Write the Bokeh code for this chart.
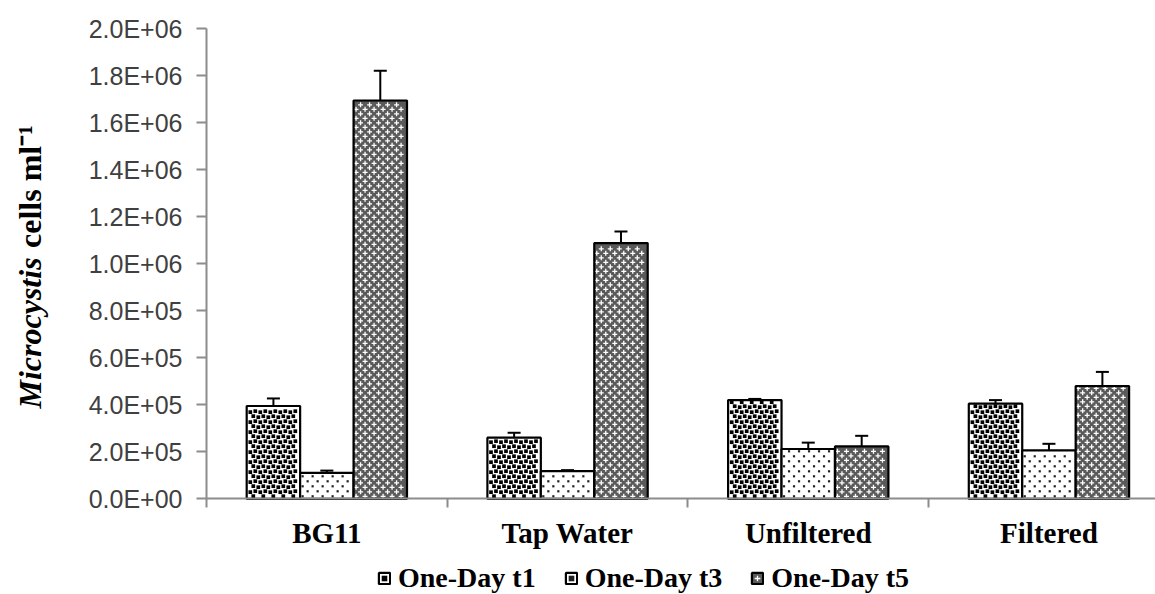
from math import pi
from bokeh.plotting import figure
from bokeh.models import (Range1d, FixedTicker, ColumnDataSource, Whisker, TeeHead,
                          Legend, LegendItem, Label)
from bokeh.embed import file_html
from bokeh.resources import INLINE

# ---------------- data ----------------
categories = ["BG11", "Tap Water", "Unfiltered", "Filtered"]
series_names = ["One-Day t1", "One-Day t3", "One-Day t5"]
t1 = [3.95e5, 2.60e5, 4.20e5, 4.05e5]
t1_err = [3.2e4, 2.1e4, 5.0e3, 1.5e4]
t3 = [1.10e5, 1.18e5, 2.12e5, 2.06e5]
t3_err = [1.0e4, 4.0e3, 2.7e4, 2.8e4]
t5 = [1.695e6, 1.088e6, 2.23e5, 4.80e5]
t5_err = [1.27e5, 4.9e4, 4.5e4, 6.0e4]
y_ticks = [i * 2.0e5 for i in range(11)]
y_tick_labels = ["0.0E+00", "2.0E+05", "4.0E+05", "6.0E+05", "8.0E+05", "1.0E+06",
                 "1.2E+06", "1.4E+06", "1.6E+06", "1.8E+06", "2.0E+06"]

# ---------------- figure (frame covers whole canvas; axes fixed at 0) ----------------
W, H = 1155, 594
ax_x, ax_y = 206.0, 498.3          # pixel position of the axes' origin
px_per_cat, px_per_unit_y = 240.7, 235.0e-6
p = figure(width=W, height=H, output_backend="svg", toolbar_location=None,
           x_range=Range1d(-ax_x / px_per_cat, (W - ax_x) / px_per_cat),
           y_range=Range1d(-(H - ax_y) / px_per_unit_y, ax_y / px_per_unit_y),
           min_border=0)
p.outline_line_color = None
p.xgrid.visible = False
p.ygrid.visible = False
p.background_fill_color = "white"

# fill-pattern styles: (bar fill, tile px, offsets px, marker, size, colours)
pattern_styles = [
    dict(fill="white", tile=10, offs=[(1.6, 1.6), (6.6, 2.6), (3.6, 6.6), (8.6, 7.6)],
         marker="square", size=3.7, mfill="black", mline=None, lw=0),
    dict(fill="white", tile=10, offs=[(2.5, 2.5), (7.5, 7.5)],
         marker="square", size=2.2, mfill="#202020", mline=None, lw=0),
    dict(fill="#5a5a5a", tile=9, offs=[(2.5, 2.5), (7.0, 7.0)],
         marker="cross", size=5, mfill=None, mline="white", lw=1.3),
]


def pattern_points(x_left, top, st, bar_px):
    """lattice of pattern marks that lie inside one bar"""
    h_px = top * px_per_unit_y
    xs, ys = [], []
    t = st["tile"]
    j = 0
    while j * t < h_px:
        i = 0
        while i * t < bar_px:
            for ox, oy in st["offs"]:
                px, py = i * t + ox, j * t + oy
                if 2.0 <= px <= bar_px - 2.0 and 2.0 <= py <= h_px - 2.0:
                    xs.append(x_left + px / px_per_cat)
                    ys.append(py / px_per_unit_y)
            i += 1
        j += 1
    return xs, ys


bw = 0.222
bar_px = bw * px_per_cat
centers = [i + 0.5 for i in range(len(categories))]
vals = [t1, t3, t5]
errs = [t1_err, t3_err, t5_err]
offsets = [-bw, 0.0, bw]
legend_items = []
for name, v, e, st, off in zip(series_names, vals, errs, pattern_styles, offsets):
    xs = [c + off for c in centers]
    src = ColumnDataSource(dict(x=xs, top=v, upper=[a + b for a, b in zip(v, e)],
                                lower=[a - b for a, b in zip(v, e)]))
    r = p.vbar(x="x", top="top", bottom=0, width=bw, source=src, fill_color=st["fill"],
               line_color=None)
    px_all, py_all = [], []
    for xc, top in zip(xs, v):
        a, b = pattern_points(xc - bw / 2, top, st, bar_px)
        px_all += a
        py_all += b
    sc = p.scatter(px_all, py_all, marker=st["marker"], size=st["size"],
                   fill_color=st["mfill"], line_color=st["mline"], line_width=st["lw"])
    ro = p.vbar(x="x", top="top", bottom=0, width=bw, source=src, fill_color=None,
                line_color="black", line_width=2.2)
    legend_items.append(LegendItem(label=name, renderers=[r, sc, ro]))
    wh = Whisker(base="x", upper="upper", lower="lower", source=src,
                 line_color="black", line_width=2,
                 upper_head=TeeHead(size=13, line_color="black", line_width=2),
                 lower_head=TeeHead(size=13, line_color="black", line_width=2))
    p.add_layout(wh)

# y axis
ya = p.yaxis[0]
ya.fixed_location = 0
ya.bounds = (0, 2.0e6)
ya.ticker = FixedTicker(ticks=y_ticks, minor_ticks=[])
ya.major_label_overrides = {t: s for t, s in zip(y_ticks, y_tick_labels)}
ya.major_label_text_font = "Liberation Sans"
ya.major_label_text_font_size = "25px"
ya.major_label_text_color = "#404040"
ya.major_label_standoff = 14
ya.axis_line_color = "#8c8c8c"
ya.axis_line_width = 2
ya.major_tick_line_color = "#8c8c8c"
ya.major_tick_line_width = 2
ya.major_tick_out = 10
ya.major_tick_in = 0
ya.minor_tick_line_color = None

# x axis
xa = p.xaxis[0]
xa.fixed_location = 0
xa.bounds = (0, 4)
xa.ticker = FixedTicker(ticks=centers, minor_ticks=[0, 1, 2, 3, 4])
xa.major_label_overrides = {c: s for c, s in zip(centers, categories)}
xa.major_label_text_font = "Liberation Serif"
xa.major_label_text_font_style = "bold"
xa.major_label_text_font_size = "29px"
xa.major_label_text_color = "black"
xa.major_label_standoff = 9
xa.axis_line_color = "#8c8c8c"
xa.axis_line_width = 2
xa.major_tick_line_color = None
xa.major_tick_out = 9
xa.major_tick_in = 0
xa.minor_tick_line_color = "#8c8c8c"
xa.minor_tick_line_width = 2
xa.minor_tick_out = 9
xa.minor_tick_in = 0

# y axis title (italic genus name + upright unit)
title_x = (29 - ax_x) / px_per_cat
y_start1 = (ax_y - 408) / px_per_unit_y
y_start2 = (ax_y - 247.5) / px_per_unit_y
lab1 = Label(x=title_x, y=y_start1, text="Microcystis", angle=pi / 2,
             text_font="Liberation Serif", text_font_style="bold italic",
             text_font_size="32px", text_align="left", text_baseline="middle",
             text_color="black")
lab2 = Label(x=title_x, y=y_start2, text="cells ml\u207b\u00b9", angle=pi / 2,
             text_font="Liberation Serif", text_font_style="bold",
             text_font_size="32px", text_align="left", text_baseline="middle",
             text_color="black")
p.add_layout(lab1)
p.add_layout(lab2)

# legend
legend = Legend(items=legend_items, orientation="horizontal", location=(377, 0),
                label_text_font="Liberation Serif", label_text_font_style="bold",
                label_text_font_size="28px", label_text_color="black",
                glyph_width=14, glyph_height=14, label_standoff=7, spacing=28,
                padding=0, margin=0, border_line_color=None, background_fill_alpha=0)
p.add_layout(legend, "center")

open("out.html", "w").write(file_html(p, INLINE))
